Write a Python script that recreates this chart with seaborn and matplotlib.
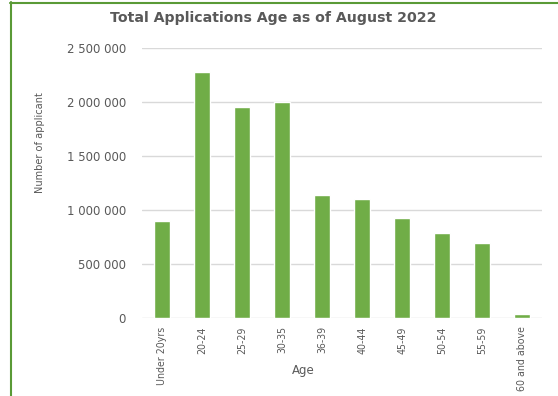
import matplotlib
matplotlib.use("Agg")
import matplotlib.pyplot as plt
from matplotlib.lines import Line2D
from matplotlib.ticker import FuncFormatter, MultipleLocator
from matplotlib import font_manager as fm
import seaborn as sns
import pandas as pd

age_groups = ["Under 20yrs", "20-24", "25-29", "30-35", "36-39",
              "40-44", "45-49", "50-54", "55-59", "60 and above"]
applicants = [900000, 2280000, 1955000, 2000000, 1140000,
              1100000, 925000, 790000, 690000, 35000]

df = pd.DataFrame({"Age": age_groups, "Applicants": applicants})

sns.set_theme(style="white")
plt.rcParams["font.family"] = ["DejaVu Sans"]

GREEN = "#70AD47"
TEXT = "#595959"

# condensed face for the axis category labels
narrow_fp = fm.FontProperties(family="DejaVu Sans", stretch="condensed")
names = {f.name for f in fm.fontManager.ttflist}
if "Liberation Sans Narrow" in names:
    narrow_fp = fm.FontProperties(family="Liberation Sans Narrow")

fig = plt.figure(figsize=(5.58, 3.96), dpi=100)
ax = fig.add_axes([142 / 558, 1 - 318 / 396, 400 / 558, 270 / 396])

sns.barplot(data=df, x="Age", y="Applicants", color=GREEN, width=0.4,
            saturation=1, ax=ax, zorder=3)

ax.set_ylim(0, 2500000)
ax.set_xlim(-0.5, len(age_groups) - 0.5)
ax.yaxis.set_major_locator(MultipleLocator(500000))
ax.yaxis.set_major_formatter(
    FuncFormatter(lambda v, p: f"{int(v):,}".replace(",", " ")))
ax.grid(axis="y", color="#D9D9D9", linewidth=1, zorder=0)
for s in ax.spines.values():
    s.set_visible(False)
ax.tick_params(axis="both", length=0)
ax.tick_params(axis="y", labelsize=8.5, labelcolor=TEXT, pad=11.5)
ax.tick_params(axis="x", labelcolor=TEXT, pad=6)
for lbl in ax.get_xticklabels():
    lbl.set_rotation(90)
    lbl.set_fontproperties(narrow_fp)
    lbl.set_fontsize(7.6)

ylab = ax.set_ylabel("Number of applicant", color=TEXT, labelpad=0)
ylab.set_fontproperties(narrow_fp)
ylab.set_fontsize(7.8)
ax.yaxis.set_label_coords(-(142 - 45) / 400, (318 - 143) / 270)
ax.set_xlabel("Age", fontsize=8.5, color=TEXT)
ax.xaxis.set_label_coords(161 / 400, -(364 - 318) / 270)

fig.text(273 / 558, 1 - 18 / 396, "Total Applications Age as of August 2022",
         ha="center", va="center", fontsize=10.2, fontweight="bold",
         color=TEXT)

# frame edges on top and left
fig.add_artist(Line2D([10 / 558, 1], [1 - 2.5 / 396, 1 - 2.5 / 396],
                      transform=fig.transFigure, color="#5A9A36", lw=1.5))
fig.add_artist(Line2D([10.5 / 558, 10.5 / 558], [0, 1 - 2 / 396],
                      transform=fig.transFigure, color="#5A9A36", lw=1.5))

fig.savefig("out.png", dpi=100)
